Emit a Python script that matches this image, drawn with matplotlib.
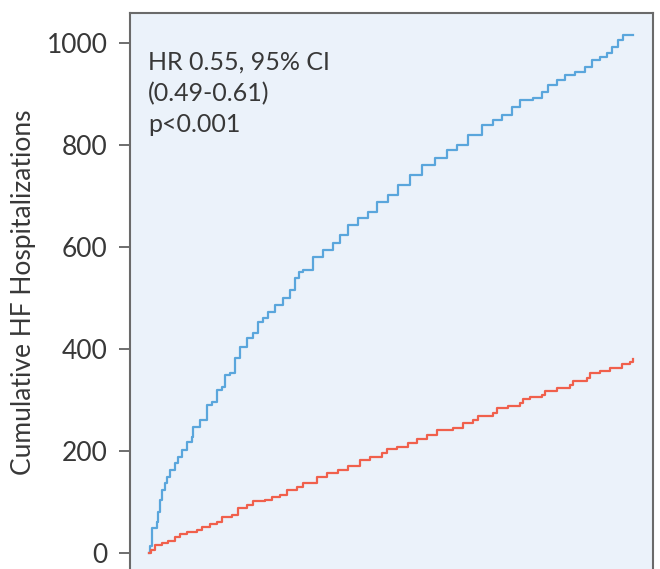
import matplotlib
matplotlib.use("Agg")
import matplotlib.pyplot as plt

# Time (days) and cumulative HF hospitalizations
blue_t = [0, 2, 7, 18, 20, 25, 29, 36, 40, 47, 58, 65, 74, 85, 96, 98, 114, 129, 141, 152,
          163, 170, 181, 192, 203, 219, 232, 243, 254, 266, 281, 299, 315, 326, 335, 344, 366, 388, 410, 426,
          444, 466, 488, 509, 533, 556, 582, 609, 638, 665, 687, 712, 743, 767, 788, 810, 828, 857, 877, 890,
          910, 928, 950, 973, 988, 1006, 1022, 1033, 1046, 1058, 1080]
blue_v = [0, 15, 49, 61, 80, 104, 124, 137, 149, 163, 176, 188, 202, 218, 227, 247, 261, 290, 296, 320,
          326, 349, 353, 382, 404, 422, 431, 453, 461, 473, 486, 500, 515, 539, 551, 555, 580, 594, 608, 624,
          643, 657, 669, 688, 702, 722, 741, 761, 775, 790, 800, 820, 839, 849, 859, 875, 888, 892, 904, 918,
          927, 937, 943, 953, 967, 973, 980, 992, 1006, 1016, 1016]

red_t = [0, 4, 13, 29, 42, 58, 69, 85, 107, 118, 136, 152, 163, 185, 199, 219, 232, 259, 274, 292,
         308, 330, 344, 375, 397, 422, 444, 471, 493, 520, 531, 553, 578, 598, 620, 643, 678, 701, 723, 734,
         767, 776, 801, 828, 834, 850, 877, 883, 910, 939, 946, 977, 984, 1006, 1028, 1055, 1073, 1080]
red_v = [0, 6, 16, 20, 24, 31, 37, 41, 45, 51, 57, 61, 71, 75, 88, 94, 102, 104, 110, 114,
         124, 129, 137, 149, 157, 163, 171, 182, 188, 196, 204, 208, 216, 224, 231, 241, 245, 255, 261, 269,
         275, 284, 288, 294, 302, 306, 310, 318, 324, 329, 337, 343, 353, 357, 363, 371, 375, 380]

y_ticks = [0, 200, 400, 600, 800, 1000]
y_label = "Cumulative HF Hospitalizations"
annotation = "HR 0.55, 95% CI\n(0.49-0.61)\np<0.001"

plt.rcParams['font.family'] = ['Lato', 'DejaVu Sans']
txt_col = '#383838'

fig = plt.figure(figsize=(6.6, 5.69), dpi=100)
ax = fig.add_axes([130/660, -25/569, 523/660, 581/569])
ax.set_facecolor('#EBF2FA')

ax.plot(blue_t, blue_v, drawstyle='steps-post', color='#5AA6DC', lw=1.6)
ax.plot(red_t, red_v, drawstyle='steps-post', color='#F0604C', lw=1.6)

ax.set_xlim(-42, 1124)
ax.set_ylim(-80, 1059)
ax.set_yticks(y_ticks)
ax.set_yticklabels([str(v) for v in y_ticks], fontsize=19, color=txt_col)
ax.tick_params(axis='y', length=8, width=1.2, color='#555555', pad=8)
ax.set_xticks([])
for s in ax.spines.values():
    s.set_color('#6a6a6a')
    s.set_linewidth(1.5)

ax.set_ylabel(y_label, fontsize=19, color=txt_col)
ax.yaxis.set_label_coords(-94/523, (594-292)/581)

ax.text(18/523, (594-51)/581, annotation, transform=ax.transAxes, fontsize=18,
        color=txt_col, va='top', ha='left', linespacing=1.42)
fig.savefig('out.png', dpi=100)
